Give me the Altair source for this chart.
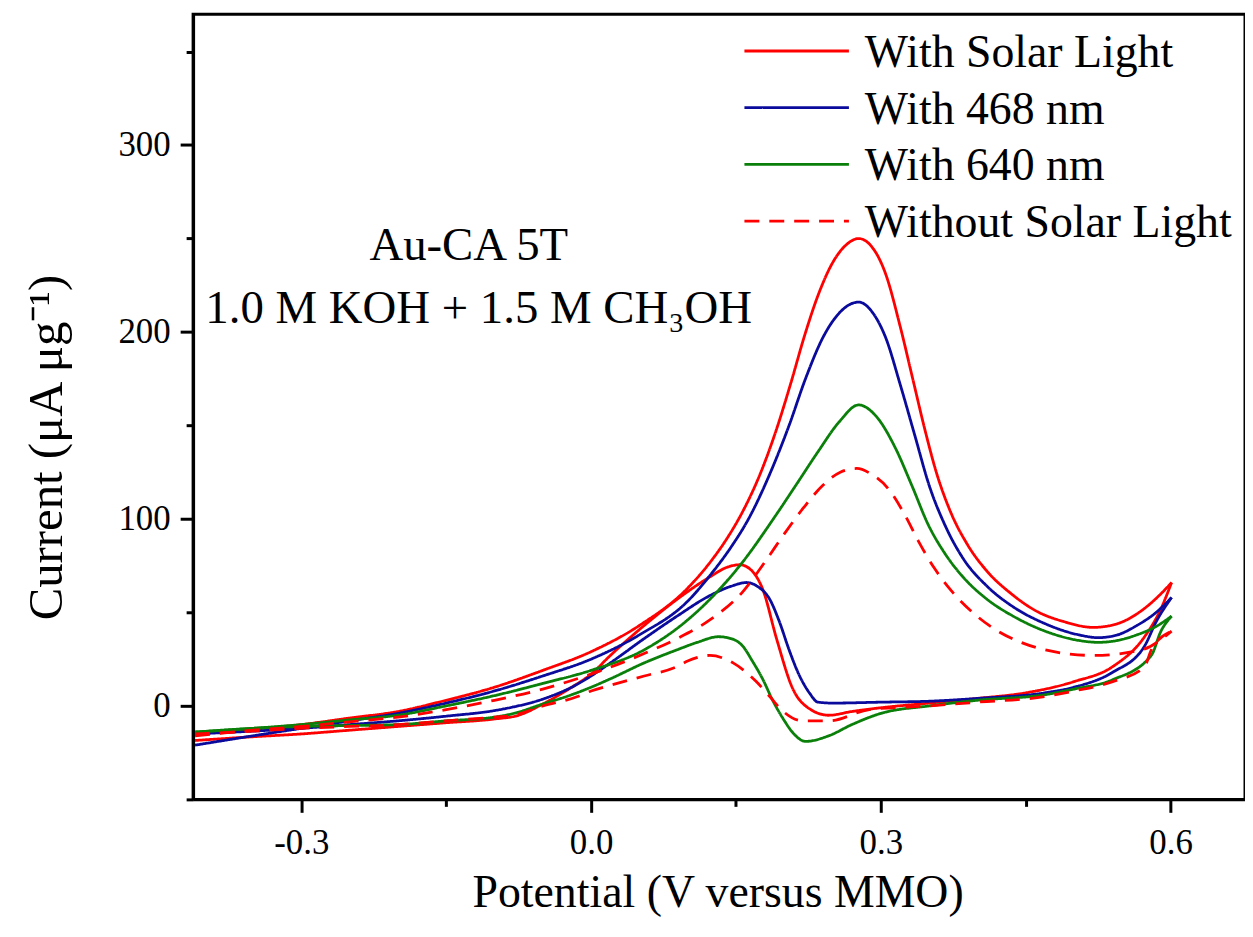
import altair as alt
import pandas as pd

SERIES = ["With Solar Light", "With 468 nm", "With 640 nm", "Without Solar Light"]
COLORS = ["#FF0000", "#0A0A9C", "#0A800A", "#FF0000"]
DASHES = [[1, 0], [1, 0], [1, 0], [15, 10]]

X_TICKS = [-0.3, 0.0, 0.3, 0.6]
X_MINOR = [-0.15, 0.15, 0.45]
Y_TICKS = [0, 100, 200, 300]
Y_MINOR = [-50, 50, 150, 250, 350]

# ---- With Solar Light (red, solid) ----
red_fwd_x = [-0.41, -0.35, -0.3, -0.25, -0.2, -0.15, -0.1, -0.05, 0.0, 0.05, 0.1, 0.125, 0.14, 0.156,
             0.175, 0.192, 0.207, 0.221, 0.236, 0.25, 0.265, 0.277, 0.29, 0.305, 0.32, 0.333, 0.345,
             0.358, 0.372, 0.39, 0.41, 0.435, 0.46, 0.49, 0.52, 0.545, 0.57, 0.59, 0.601]
red_fwd_y = [-15, -12.5, -10, -6.5, -3, 3, 10, 19, 29, 43, 63, 78, 89, 103,
             124, 148, 173, 198, 221, 237, 247, 250, 246, 231, 203, 175, 149,
             124, 104, 86, 72, 60, 51, 45, 42, 44, 51, 60, 66]
red_rev_x = [0.601, 0.59, 0.573, 0.54, 0.5, 0.45, 0.4, 0.35, 0.3, 0.27, 0.246, 0.226, 0.209, 0.192,
             0.178, 0.165, 0.154, 0.14, 0.123, 0.089, 0.055, 0.02, 0.0, -0.02, -0.05, -0.075, -0.1,
             -0.15, -0.2, -0.25, -0.3, -0.35, -0.41]
red_rev_y = [66, 52, 37, 21, 13, 7, 4, 1.5, -1, -3, -5, -1.5, 9, 36,
             62, 73, 75.5, 74, 69, 57, 43, 27, 17, 10, 1, -5, -7,
             -9, -11, -13, -15, -16.5, -18.5]

# ---- With 468 nm (blue) ----
blue_fwd_x = [-0.41, -0.35, -0.3, -0.25, -0.2, -0.15, -0.1, -0.05, 0.0, 0.05, 0.1, 0.125, 0.145, 0.163,
              0.185, 0.205, 0.222, 0.241, 0.255, 0.267, 0.277, 0.292, 0.305, 0.32, 0.335, 0.35, 0.367,
              0.385, 0.41, 0.437, 0.47, 0.505, 0.525, 0.545, 0.565, 0.585, 0.601]
blue_fwd_y = [-21, -16, -12, -8, -4, 1.5, 8, 16, 25, 38, 56, 71, 85, 100,
              124, 150, 175, 198, 209, 214.5, 216, 210, 197, 172, 145, 118, 96,
              79, 64, 53, 44, 38, 36.5, 38, 43, 50, 58]
blue_rev_x = [0.601, 0.585, 0.573, 0.54, 0.5, 0.47, 0.4, 0.35, 0.3, 0.25, 0.235, 0.226, 0.215, 0.205,
              0.195, 0.185, 0.172, 0.161, 0.145, 0.123, 0.089, 0.055, 0.02, 0.0, -0.02, -0.04, -0.06,
              -0.08, -0.1, -0.15, -0.2, -0.25, -0.3, -0.35, -0.41]
blue_rev_y = [58, 45, 32, 18, 10, 7, 4, 2.5, 2, 1.5, 2, 7, 17, 30,
              45, 57, 64, 66, 64, 59, 48, 36, 23, 16, 10, 5.5, 2,
              -0.5, -2.5, -5.5, -8, -10, -12, -13.5, -15]

# ---- With 640 nm (green) ----
green_fwd_x = [-0.41, -0.35, -0.3, -0.25, -0.2, -0.15, -0.1, -0.05, 0.0, 0.055, 0.1, 0.123, 0.157, 0.19,
               0.212, 0.235, 0.257, 0.277, 0.295, 0.315, 0.332, 0.349, 0.367, 0.385, 0.41, 0.437, 0.47,
               0.505, 0.525, 0.545, 0.565, 0.585, 0.601]
green_fwd_y = [-14, -12, -10, -7.5, -5, 0, 5.5, 12, 19, 30, 46, 57, 77, 101,
               118, 136, 152, 161, 155, 138, 118, 97, 81, 69, 57, 48, 40,
               35, 34, 35, 38, 42.5, 48]
green_rev_x = [0.601, 0.59, 0.58, 0.54, 0.5, 0.47, 0.4, 0.35, 0.3, 0.27, 0.246, 0.222, 0.21, 0.199,
               0.188, 0.178, 0.167, 0.157, 0.145, 0.132, 0.11, 0.089, 0.055, 0.02, 0.0, -0.02, -0.05,
               -0.08, -0.1, -0.15, -0.2, -0.25, -0.3, -0.35, -0.41]
green_rev_y = [48, 40, 27, 14, 9, 6, 3, 0, -4, -10, -16, -19, -15, -7,
               3, 14, 24, 32, 36, 37, 34, 30, 23, 14.5, 10, 6, 1,
               -4, -6, -8, -10, -10.5, -11, -12, -14]

# ---- Without Solar Light (red, dashed) ----
dash_fwd_x = [-0.41, -0.35, -0.3, -0.25, -0.2, -0.15, -0.1, -0.05, 0.0, 0.055, 0.089, 0.123, 0.157, 0.18,
              0.2, 0.22, 0.24, 0.258, 0.275, 0.29, 0.308, 0.325, 0.339, 0.355, 0.374, 0.395, 0.418,
              0.445, 0.47, 0.52, 0.57, 0.601]
dash_fwd_y = [-16, -13, -11, -8.5, -6, -2, 3, 9, 17, 28, 36, 46, 61, 77,
              92, 106, 118, 125, 127, 124, 116, 102, 88, 74, 61, 50, 41,
              34, 30, 27, 30, 40]
dash_rev_x = [0.601, 0.58, 0.573, 0.54, 0.5, 0.47, 0.4, 0.35, 0.288, 0.246, 0.219, 0.199, 0.185, 0.171,
              0.147, 0.123, 0.1, 0.089, 0.055, 0.02, 0.0, -0.014, -0.05, -0.08, -0.1, -0.15, -0.2,
              -0.25, -0.3, -0.35, -0.41]
dash_rev_y = [40, 30, 21, 13, 8, 5, 2, 0, -2, -8, -8, -3, 5, 13,
              23, 27, 24, 21, 16, 11, 8, 5, 0, -5, -6, -8, -10,
              -11, -12, -13.5, -15]

ANNOT_1 = "Au-CA 5T"
ANNOT_2 = "1.0 M KOH + 1.5 M CH\u2083OH"
X_TITLE = "Potential (V versus MMO)"
Y_TITLE = "Current (\u03bcA \u03bcg\u207b\u00b9)"

branches = [
    (SERIES[0], "f", red_fwd_x, red_fwd_y), (SERIES[0], "r", red_rev_x, red_rev_y),
    (SERIES[1], "f", blue_fwd_x, blue_fwd_y), (SERIES[1], "r", blue_rev_x, blue_rev_y),
    (SERIES[2], "f", green_fwd_x, green_fwd_y), (SERIES[2], "r", green_rev_x, green_rev_y),
    (SERIES[3], "f", dash_fwd_x, dash_fwd_y), (SERIES[3], "r", dash_rev_x, dash_rev_y),
]
rows = []
for name, br, xs_, ys_ in branches:
    for xv, yv in zip(xs_, ys_):
        rows.append({"series": name, "branch": name + "|" + br, "x": xv, "y": yv})
df = pd.DataFrame(rows)

FONT = "Liberation Serif"
xscale = alt.Scale(domain=[-0.412, 0.677], nice=False, zero=False)
yscale = alt.Scale(domain=[-50, 370], nice=False, zero=False)

x_axis = alt.Axis(
    values=X_TICKS, labelExpr="replace(format(datum.value, '.1f'), '\u2212', '-')",
    title=X_TITLE, titleFont=FONT, titleFontSize=46, titleFontWeight="normal", titleColor="black",
    titleBaseline="alphabetic", titleX=527, titleY=108, titleAlign="center",
    labelFont=FONT, labelFontSize=35, labelColor="black", labelPadding=13, labelFlush=False,
    tickSize=13, tickWidth=3, tickColor="black", domainWidth=3, domainColor="black",
    grid=False, orient="bottom")
y_axis = alt.Axis(
    values=Y_TICKS, format="d",
    title=Y_TITLE, titleFont=FONT, titleFontSize=49, titleFontWeight="normal", titleColor="black",
    titleBaseline="alphabetic", titleAngle=270, titleX=-132, titleY=435, titleAlign="center",
    labelFont=FONT, labelFontSize=35, labelColor="black", labelPadding=10, labelFlush=False,
    tickSize=13, tickWidth=3, tickColor="black", domainWidth=3, domainColor="black",
    grid=False, orient="left")

lines = alt.Chart(df).mark_line(strokeWidth=2.8, interpolate="monotone", clip=True).encode(
    x=alt.X("x:Q", scale=xscale, axis=x_axis),
    y=alt.Y("y:Q", scale=yscale, axis=y_axis),
    color=alt.Color("series:N", scale=alt.Scale(domain=SERIES, range=COLORS), legend=None),
    strokeDash=alt.StrokeDash("series:N", scale=alt.Scale(domain=SERIES, range=DASHES), legend=None),
    detail="branch:N",
)

minor = alt.Chart(df).mark_point(opacity=0).encode(
    x=alt.X("x:Q", scale=xscale, axis=alt.Axis(values=X_MINOR, labels=False, title=None, domain=False,
                                                 tickSize=7, tickWidth=3, tickColor="black",
                                                 grid=False, orient="bottom")),
    y=alt.Y("y:Q", scale=yscale, axis=alt.Axis(values=Y_MINOR, labels=False, title=None, domain=False,
                                                 tickSize=7, tickWidth=3, tickColor="black",
                                                 grid=False, orient="left")),
)

layers = [lines, minor]

one = pd.DataFrame({"k": [0]})
# legend drawn inside the plot (top right)
for i, name in enumerate(SERIES):
    row_y = 37 + 57 * i
    layers.append(
        alt.Chart(one).mark_rule(strokeWidth=2.8, color=COLORS[i], strokeDash=DASHES[i]).encode(
            x=alt.value(554), x2=alt.value(659), y=alt.value(row_y))
    )
    layers.append(
        alt.Chart(one).mark_text(align="left", baseline="alphabetic", font=FONT, fontSize=46,
                                 color="black").encode(
            x=alt.value(675), y=alt.value(row_y + 16), text=alt.value(name))
    )

layers.append(
    alt.Chart(one).mark_text(align="center", baseline="alphabetic", font=FONT, fontSize=47,
                             color="black").encode(
        x=alt.value(277), y=alt.value(247), text=alt.value(ANNOT_1))
)
layers.append(
    alt.Chart(one).mark_text(align="center", baseline="alphabetic", font=FONT, fontSize=47,
                             color="black").encode(
        x=alt.value(287), y=alt.value(310), text=alt.value(ANNOT_2))
)

chart = alt.layer(*layers).resolve_axis(x="independent", y="independent").properties(
    width=1057, height=789,
    autosize=alt.AutoSizeParams(type="none"),
    padding={"left": 186, "top": 4, "right": 0, "bottom": 120},
    background="white",
).configure_view(stroke="black", strokeWidth=3)

chart.save("out.html", embed_options={"renderer": "svg", "actions": False})
